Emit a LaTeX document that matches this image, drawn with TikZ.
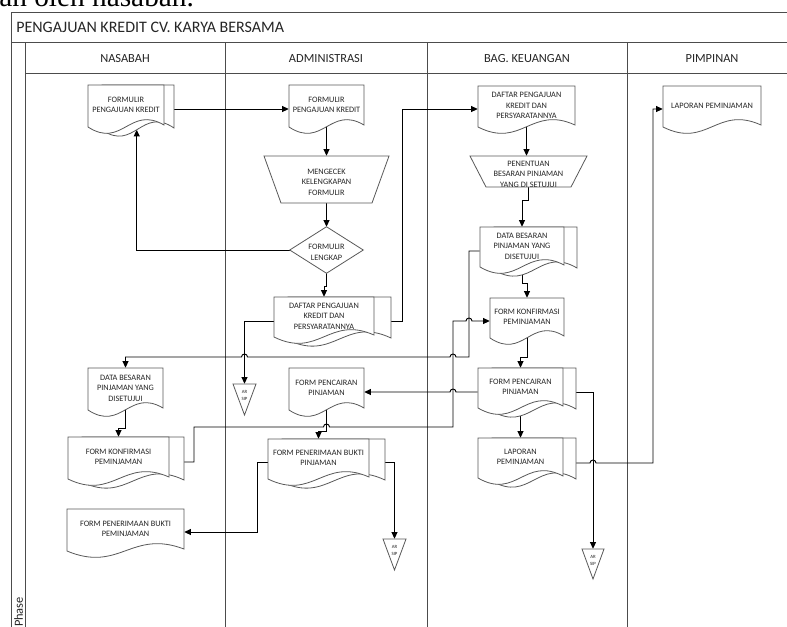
\documentclass[tikz,border=0pt]{standalone}
\usepackage{fontspec}
\setmainfont{Carlito}
\newfontfamily\pageserif{Liberation Serif}
\usetikzlibrary{arrows.meta,fit,calc}
\pgfdeclarelayer{bg}\pgfdeclarelayer{lanes}\pgfdeclarelayer{conn}\pgfdeclarelayer{shp}
\pgfsetlayers{bg,lanes,conn,shp,main}
\tikzset{
 box/.style={inner sep=0pt, draw=none},
 doctext/.style={inner sep=0pt, align=center, text=black!85, font=\fontsize{6.2}{7.9}\selectfont},
 tinytext/.style={inner sep=0pt, align=center, text=black!85, font=\fontsize{3.6}{5.4}\selectfont},
 shapeline/.style={draw=black!65, line width=0.6pt, fill=white},
 arr/.style={draw=black, line width=0.7pt, -{Triangle[length=5pt,width=4.5pt]}},
 lane/.style={draw=black!70, line width=0.75pt},
 hdr/.style={inner sep=0pt, anchor=base, font=\fontsize{9.3}{11}\selectfont, text=black!85},
}
\newcommand\shapetext[2]{\node[doctext] (#1-t) at ([yshift=-1.9pt]#1.center) {#2};}
% single document: name, L, T, R, B, text
\newcommand\docsingle[6]{%
 \node[box, fit={(#2,#3) (#4,#5-7)}] (#1) {};
 \shapetext{#1}{#6}
 \begin{pgfonlayer}{shp}
 \draw[shapeline] (#2,#5) -- (#2,#3) -- (#4,#3) -- (#4,#5-2)
   .. controls ({#2+0.55*(#4-#2)},#5-22) and ({#2+0.45*(#4-#2)},#5+22) .. (#2,#5) -- cycle;
 \end{pgfonlayer}}
% multiple documents: name, L, T, Rfront, B, Rback, text
\newcommand\docmulti[7]{%
 \begin{pgfonlayer}{shp}
 \draw[shapeline] ({#2+14},#5+3) -- ({#2+14},#3) -- (#6,#3) -- (#6,#5+1)
   .. controls ({#2+14+0.55*(#6-#2-14)},#5-21) and ({#2+14+0.45*(#6-#2-14)},#5+25) .. ({#2+14},#5+3) -- cycle;
 \end{pgfonlayer}
 \docsingle{#1}{#2}{#3}{#4}{#5}{#7}}
% manual operation: name, Ltop, Ttop, Rtop, Bbottom, inset, text
\newcommand\manop[7]{%
 \node[box, fit={(#2,#3) (#4,#5)}] (#1) {};
 \shapetext{#1}{#7}
 \begin{pgfonlayer}{shp}
 \draw[shapeline] (#2,#3) -- (#4,#3) -- ({#4-#6},#5) -- ({#2+#6},#5) -- cycle;
 \end{pgfonlayer}}
% archive triangle: name, L, T, R, apex y
\newcommand\arsip[5]{%
 \node[box, fit={(#2,#3) (#4,#3+20)}] (#1) {};
 \node[tinytext] (#1-t) at ([yshift=-0.8pt]#1.center) {AR\\SIP};
 \begin{pgfonlayer}{shp}
 \draw[shapeline] (#2,#3) -- (#4,#3) -- ({(#2+#4)/2},#5) -- cycle;
 \end{pgfonlayer}}
\begin{document}
\begin{tikzpicture}[x=0.75pt,y=-0.75pt]
\useasboundingbox (0,0) rectangle (787,626);
\begin{pgfonlayer}{bg}
\fill[white] (0,0) rectangle (787,626);
\end{pgfonlayer}
% text of the page above the figure
\node[anchor=base west, inner sep=0pt, font=\pageserif\fontsize{22}{26}\selectfont] (pagetext) at (-1,6) {an oleh nasabah.};
% frame and lanes
\begin{pgfonlayer}{lanes}
\draw[lane] (11,650) -- (11,12) -- (810,12);
\draw[lane] (11,42) -- (810,42);
\draw[lane] (25,42) -- (25,650);
\draw[lane] (25,73) -- (810,73);
\draw[lane] (225,42) -- (225,650);
\draw[lane] (427,42) -- (427,650);
\draw[lane] (627,42) -- (627,650);
\draw[lane] (797,12) -- (797,650);
\end{pgfonlayer}
\node[anchor=base west, inner sep=0pt, font=\fontsize{12}{14}\selectfont, text=black!85] (title) at (16,32) {PENGAJUAN KREDIT CV. KARYA BERSAMA};
\node[hdr] (hN) at (125,62) {NASABAH};
\node[hdr] (hA) at (326,62) {ADMINISTRASI};
\node[hdr] (hK) at (527,62) {BAG. KEUANGAN};
\node[hdr] (hP) at (712,62) {PIMPINAN};
\node[rotate=90, inner sep=0pt, font=\fontsize{9.3}{11}\selectfont, text=black!85] (phase) at (18.5,612) {Phase};
% NASABAH
\docmulti{d1}{88}{85}{164}{127}{174}{FORMULIR\\PENGAJUAN KREDIT}
\docsingle{d15}{88}{368}{163}{410}{DATA BESARAN\\PINJAMAN YANG\\DISETUJUI}
\docmulti{d16}{68}{437}{169}{479}{184}{FORM KONFIRMASI\\PEMINJAMAN}
\docsingle{d17}{67}{509}{184}{551}{FORM PENERIMAAN BUKTI\\PEMINJAMAN}
% ADMINISTRASI
\docsingle{d2}{289}{85}{364}{127}{FORMULIR\\PENGAJUAN KREDIT}
\manop{t1}{264}{156}{389}{203}{17}{MENGECEK\\KELENGKAPAN\\FORMULIR}
\node[box, fit={(290,227) (363,273)}] (dm) {};
\shapetext{dm}{FORMULIR\\LENGKAP}
\begin{pgfonlayer}{shp}
\draw[shapeline] (dm.north) -- (dm.east) -- (dm.south) -- (dm.west) -- cycle;
\end{pgfonlayer}
\docmulti{d5}{274}{297}{374}{337}{391}{DAFTAR PENGAJUAN\\KREDIT DAN\\PERSYARATANNYA}
\arsip{ar1}{233}{384}{256}{415}
\docsingle{d13}{289}{368}{364}{410}{FORM PENCAIRAN\\PINJAMAN}
\docmulti{d14}{268}{439}{369}{479}{385}{FORM PENERIMAAN BUKTI\\PINJAMAN}
\arsip{ar2}{383}{539}{406}{570}
% BAG. KEUANGAN
\docsingle{d6}{478}{86}{575}{127}{DAFTAR PENGAJUAN\\KREDIT DAN\\PERSYARATANNYA}
\manop{t2}{470}{156}{587}{187}{16}{PENENTUAN\\BESARAN PINJAMAN\\YANG DI SETUJUI}
\docmulti{d7}{480}{227}{564}{267}{577}{DATA BESARAN\\PINJAMAN YANG\\DISETUJUI}
\docsingle{d8}{490}{298}{564}{338}{FORM KONFIRMASI\\PEMINJAMAN}
\docmulti{d9}{478}{368}{563}{408}{576}{FORM PENCAIRAN\\PINJAMAN}
\docmulti{d10}{478}{438}{563}{478}{576}{LAPORAN\\PEMINJAMAN}
\arsip{ar3}{582}{549}{604}{579}
% PIMPINAN
\docsingle{d12}{663}{86}{761}{127}{LAPORAN PEMINJAMAN}
% connectors
\begin{pgfonlayer}{conn}
\draw[arr] (d1.east |- 0,109) -- (d2.west |- 0,109);
\draw[arr] (d2.south) -- (t1.north);
\draw[arr] (t1.south) -- (dm.north);
\draw[arr] (dm.west) -| ($(d1.south west)!0.64!(d1.south east)+(0,9.5)$);
\draw[arr] (dm.south) -- ++(0,13) -| (d5.north);
\draw[arr] (d5.east |- 0,321) -- (402,321) -- (402,109) -- (d6.west |- 0,109);
\draw[arr] (d5.west |- 0,321) -| (ar1.north);
\draw[arr] (d6.south) -- (d6.south |- t2.north);
\draw[arr] (t2.south) -- ++(0,13) -| (d7.north);
\draw[arr] (d7.south) -- ++(0,23) -| (d8.north);
\draw[arr] (d8.south) -- ++(0,26) -| (d9.north);
\draw[arr] (d9.south) -- (d10.north);
\draw[arr] (d9.east |- 0,392) -| (ar3.north);
\draw[arr] (d10.east |- 0,463) -- (590,463) arc[start angle=180,end angle=0,radius=2.25pt] -- (653,463) -- (653,109) -- (d12.west |- 0,109);
\draw[arr] (d9.west |- 0,392) -- (456,392) arc[start angle=0,end angle=180,radius=2.25pt] -- (d13.east |- 0,392);
\draw[arr] (d7.west |- 0,251) -- (469,251) -- (469,357) -- (456,357) arc[start angle=0,end angle=180,radius=2.25pt] -- (247.5,357) arc[start angle=0,end angle=180,radius=2.25pt] -- (d15.north |- 0,357) -- (d15.north);
\draw[arr] (d16.east |- 0,462) -- (194,462) -- (194,427) -- (323.5,427) arc[start angle=180,end angle=0,radius=2.25pt] -- (453,427) -- (453,321) -- (466,321) arc[start angle=180,end angle=0,radius=2.25pt] -- (d8.west |- 0,321);
\draw[arr] (d13.south) -- ++(0,28) -| (d14.north);
\draw[arr] (d14.west |- 0,462) -- (257,462) |- (d17.east |- 0,532);
\draw[arr] (d14.east |- 0,462) -| (ar2.north);
\draw[arr] (d15.south) -- ++(0,25) -| (d16.north);
\end{pgfonlayer}
\end{tikzpicture}
\end{document}
